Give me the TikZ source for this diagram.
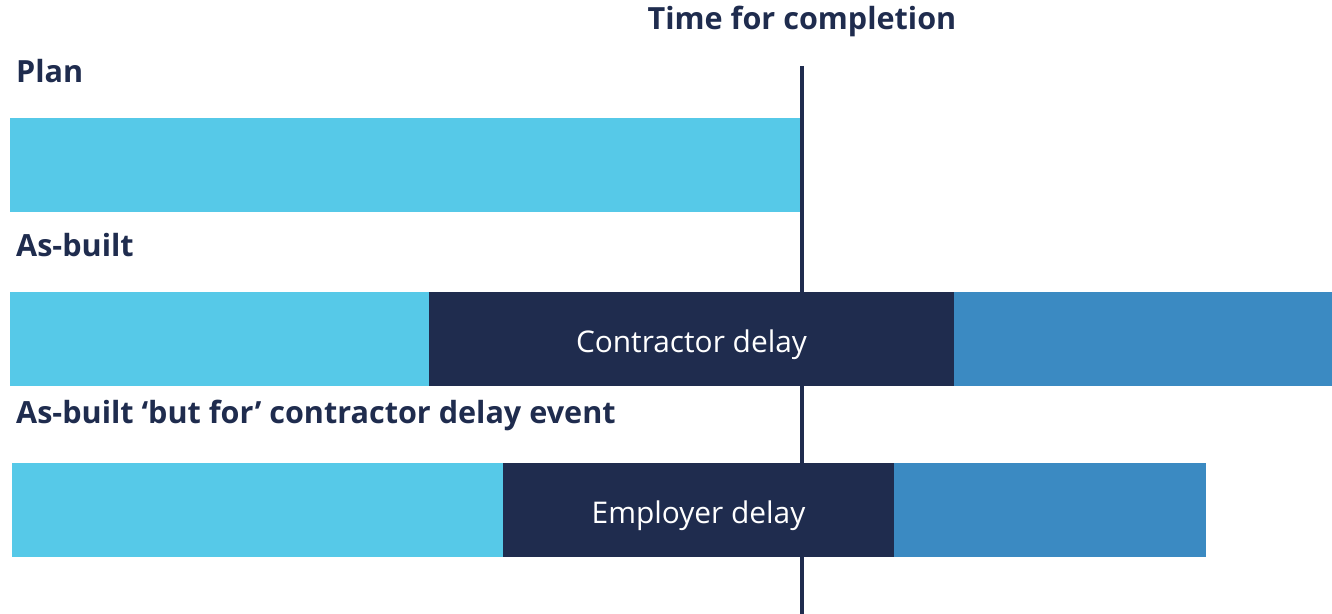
\documentclass[tikz,border=0pt]{standalone}
\usepackage{fontspec}
\setmainfont{Open Sans}
\usetikzlibrary{positioning}
\definecolor{navy}{HTML}{1F2C4E}
\definecolor{skyblue}{HTML}{56C9E8}
\definecolor{midblue}{HTML}{3B8AC2}

\begin{document}
\begin{tikzpicture}[x=0.02cm, y=-0.02cm, node distance=-0.8pt,
  every node/.style={font=\fontsize{17}{20}\selectfont},
  bar/.style={rectangle, inner sep=0pt, minimum height=1.88cm, text height=1.45em, text depth=0pt},
  rowlabel/.style={anchor=base west, text=navy, font=\fontsize{17.4}{20}\selectfont\bfseries}]
\useasboundingbox (0,0) rectangle (1332,614);

% time for completion
\node[anchor=base, text=navy, font=\fontsize{17.4}{20}\selectfont\bfseries] (tfc) at (802,30) {Time for completion};
\coordinate (lntop) at (802,66);
\coordinate (lnbot) at (802,614);
\draw[navy, line width=2.6pt] (lntop) -- (lnbot);

% plan
\node[rowlabel] (planlbl) at (10,83) {Plan};
\node[bar, anchor=north west, fill=skyblue, minimum width=15.8cm] (plan) at (10,118) {};

% as-built
\node[rowlabel] (ablbl) at (10,257) {As-built};
\node[bar, anchor=north west, fill=skyblue, minimum width=8.38cm] (ab1) at (10,292) {};
\node[bar, right=of ab1, fill=navy, minimum width=10.52cm, text=white] (ab2) {Contractor delay};
\node[bar, right=of ab2, fill=midblue, minimum width=7.56cm] (ab3) {};

% as-built but for
\node[rowlabel] (bflbl) at (10,424) {As-built ‘but for’ contractor delay event};
\node[bar, anchor=north west, fill=skyblue, minimum width=9.82cm] (bf1) at (12,463) {};
\node[bar, right=of bf1, fill=navy, minimum width=7.84cm, text=white] (bf2) {Employer delay};
\node[bar, right=of bf2, fill=midblue, minimum width=6.24cm] (bf3) {};
\end{tikzpicture}
\end{document}
